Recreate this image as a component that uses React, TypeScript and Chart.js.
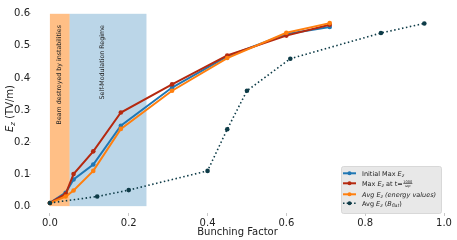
import React, { useEffect, useRef } from "react";
import { Chart, registerables } from "chart.js";

Chart.register(...registerables);

// ---- data ----
const initialX = [0.0, 0.04, 0.06, 0.11, 0.18, 0.31, 0.45, 0.6, 0.71];
const initialY = [0.01, 0.042, 0.083, 0.13, 0.251, 0.37, 0.467, 0.537, 0.559];
const maxAtTX = [0.0, 0.04, 0.06, 0.11, 0.18, 0.31, 0.45, 0.6, 0.71];
const maxAtTY = [0.01, 0.038, 0.1, 0.171, 0.292, 0.38, 0.47, 0.532, 0.566];
const avgEnergyX = [0.0, 0.04, 0.06, 0.11, 0.18, 0.31, 0.45, 0.6, 0.71];
const avgEnergyY = [0.01, 0.03, 0.049, 0.11, 0.241, 0.36, 0.462, 0.541, 0.571];
const bflatX = [0.0, 0.12, 0.2, 0.4, 0.45, 0.5, 0.61, 0.84, 0.95];
const bflatY = [0.01, 0.03, 0.05, 0.11, 0.24, 0.36, 0.46, 0.54, 0.57];
const xTicks = [0.0, 0.2, 0.4, 0.6, 0.8, 1.0];
const yTicks = [0.0, 0.1, 0.2, 0.3, 0.4, 0.5, 0.6];
const spanOrange = [0.0, 0.05];
const spanBlue = [0.05, 0.245];
const spanY = [0.0, 0.6];
const spanOrangeLabel = "Beam destroyed by instabilities";
const spanBlueLabel = "Self-Modulation Regime";
const xTitle = "Bunching Factor";

const C_BLUE = "#1f77b4";
const C_RED = "#b5290f";
const C_ORANGE = "#ff7f0e";
const C_DARK = "#0d3b47";
const FONT = "DejaVu Sans";

type Seg = { t?: string; it?: boolean; sub?: boolean; frac?: [string, string] };

function richWidth(ctx: CanvasRenderingContext2D, segs: Seg[], size: number) {
  let w = 0;
  for (const s of segs) {
    if (s.frac) {
      ctx.font = `${size * 0.55}px ${FONT}`;
      const a = ctx.measureText(s.frac[0]).width;
      ctx.font = `italic ${size * 0.55}px ${FONT}`;
      const b = ctx.measureText(s.frac[1]).width;
      w += Math.max(a, b) + size * 0.2;
      continue;
    }
    const fs = s.sub ? size * 0.7 : size;
    ctx.font = `${s.it ? "italic " : ""}${fs}px ${FONT}`;
    w += ctx.measureText(s.t || "").width;
  }
  return w;
}

function drawRich(ctx: CanvasRenderingContext2D, segs: Seg[], x: number, y: number, size: number) {
  let cx = x;
  ctx.textBaseline = "alphabetic";
  ctx.textAlign = "left";
  for (const s of segs) {
    if (s.frac) {
      const fs = size * 0.55;
      ctx.font = `${fs}px ${FONT}`;
      const a = ctx.measureText(s.frac[0]).width;
      ctx.font = `italic ${fs}px ${FONT}`;
      const b = ctx.measureText(s.frac[1]).width;
      const w = Math.max(a, b);
      const x0 = cx + size * 0.1;
      ctx.font = `${fs}px ${FONT}`;
      ctx.fillText(s.frac[0], x0 + (w - a) / 2, y - size * 0.45);
      ctx.fillRect(x0, y - size * 0.33, w, 0.6);
      ctx.font = `italic ${fs}px ${FONT}`;
      ctx.fillText(s.frac[1], x0 + (w - b) / 2, y + size * 0.25);
      cx += w + size * 0.2;
      continue;
    }
    const fs = s.sub ? size * 0.7 : size;
    ctx.font = `${s.it ? "italic " : ""}${fs}px ${FONT}`;
    ctx.fillText(s.t || "", cx, s.sub ? y + size * 0.22 : y);
    cx += ctx.measureText(s.t || "").width;
  }
}

const legendRows: { segs: Seg[]; color: string; dash: boolean }[] = [
  { segs: [{ t: "Initial Max " }, { t: "E", it: true }, { t: "z", it: true, sub: true }], color: C_BLUE, dash: false },
  {
    segs: [{ t: "Max " }, { t: "E", it: true }, { t: "z", it: true, sub: true }, { t: " at t=" }, { frac: ["1000", "ωp"] }],
    color: C_RED,
    dash: false,
  },
  {
    segs: [{ t: "Avg ", it: true }, { t: "E", it: true }, { t: "z", it: true, sub: true }, { t: " (energy values)", it: true }],
    color: C_ORANGE,
    dash: false,
  },
  {
    segs: [{ t: "Avg " }, { t: "E", it: true }, { t: "z", it: true, sub: true }, { t: " (" }, { t: "B", it: true }, { t: "flat", it: true, sub: true }, { t: ")" }],
    color: C_DARK,
    dash: true,
  },
];

const decorPlugin = {
  id: "decor",
  beforeDatasetsDraw(chart: any) {
    const ctx: CanvasRenderingContext2D = chart.ctx;
    const xs = chart.scales.x;
    const ys = chart.scales.y;
    const yTop = ys.getPixelForValue(spanY[1]);
    const yBot = ys.getPixelForValue(spanY[0]);
    ctx.save();
    const ox0 = xs.getPixelForValue(spanOrange[0]);
    const ox1 = xs.getPixelForValue(spanOrange[1]);
    ctx.fillStyle = "rgba(255,127,14,0.5)";
    ctx.fillRect(ox0, yTop, ox1 - ox0, yBot - yTop);
    const bx0 = xs.getPixelForValue(spanBlue[0]);
    const bx1 = xs.getPixelForValue(spanBlue[1]);
    ctx.fillStyle = "rgba(31,119,180,0.3)";
    ctx.fillRect(bx0, yTop, bx1 - bx0, yBot - yTop);
    // span labels
    ctx.fillStyle = "#222";
    ctx.font = `6.3px ${FONT}`;
    ctx.textAlign = "right";
    ctx.textBaseline = "middle";
    const ty = ys.getPixelForValue(0.565);
    ctx.setTransform(0, -1, 1, 0, xs.getPixelForValue(0.023), ty);
    ctx.fillText(spanOrangeLabel, 0, 0);
    ctx.setTransform(0, -1, 1, 0, xs.getPixelForValue(0.134), ty);
    ctx.fillText(spanBlueLabel, 0, 0);
    ctx.setTransform(1, 0, 0, 1, 0, 0);
    ctx.restore();
  },
  afterDatasetsDraw(chart: any) {
    const ctx: CanvasRenderingContext2D = chart.ctx;
    const area = chart.chartArea;
    ctx.save();
    // legend
    const lx = 341, ly = 166, lw = 100, lh = 47;
    ctx.fillStyle = "#e8e8e8";
    ctx.strokeStyle = "#d0d0d0";
    ctx.lineWidth = 0.8;
    ctx.beginPath();
    (ctx as any).roundRect(lx + 0.5, ly + 0.5, lw, lh, 2);
    ctx.fill();
    ctx.stroke();
    const rowY = [175.5, 185.5, 196.5, 205.5];
    legendRows.forEach((r, i) => {
      const cy = rowY[i] - 2.2;
      ctx.strokeStyle = r.color;
      ctx.fillStyle = r.color;
      ctx.lineWidth = r.dash ? 1.5 : 2;
      ctx.setLineDash(r.dash ? [1.5, 2.2] : []);
      ctx.beginPath();
      ctx.moveTo(343, cy);
      ctx.lineTo(356, cy);
      ctx.stroke();
      ctx.setLineDash([]);
      ctx.beginPath();
      ctx.arc(349.5, cy, 2, 0, Math.PI * 2);
      ctx.fill();
      ctx.fillStyle = "#222";
      drawRich(ctx, r.segs, 362, rowY[i], 6.5);
    });
    // axis titles
    ctx.fillStyle = "#222";
    ctx.font = `10px ${FONT}`;
    ctx.textAlign = "center";
    ctx.textBaseline = "alphabetic";
    ctx.fillText(xTitle, (area.left + area.right) / 2, 235);
    const ySegs: Seg[] = [{ t: "E", it: true }, { t: "z", it: true, sub: true }, { t: " (TV/m)" }];
    const w = richWidth(ctx, ySegs, 10);
    ctx.setTransform(0, -1, 1, 0, 12.5, 108.5);
    drawRich(ctx, ySegs, -w / 2, 0, 10);
    ctx.setTransform(1, 0, 0, 1, 0, 0);
    ctx.restore();
  },
};

function pts(xs: number[], ys: number[]) {
  return xs.map((x, i) => ({ x, y: ys[i] }));
}

export default function App() {
  const ref = useRef<HTMLCanvasElement | null>(null);
  useEffect(() => {
    if (!ref.current) return;
    const mk = (label: string, data: any[], color: string, order: number, dash = false) => ({
      label,
      data,
      borderColor: color,
      backgroundColor: color,
      pointBackgroundColor: color,
      pointBorderColor: color,
      borderWidth: dash ? 1.6 : 2,
      borderDash: dash ? [1.5, 2.5] : [],
      pointRadius: 2.3,
      pointBorderWidth: 0,
      tension: 0,
      order,
      showLine: true,
    });
    const chart = new Chart(ref.current, {
      type: "scatter",
      data: {
        datasets: [
          mk("Initial Max Ez", pts(initialX, initialY), C_BLUE, 4),
          mk("Max Ez at t", pts(maxAtTX, maxAtTY), C_RED, 3),
          mk("Avg Ez (energy values)", pts(avgEnergyX, avgEnergyY), C_ORANGE, 2),
          mk("Avg Ez (Bflat)", pts(bflatX, bflatY), C_DARK, 1, true),
        ] as any,
      },
      options: {
        responsive: false,
        animation: false,
        devicePixelRatio: 1,
        layout: { padding: { left: 0, top: 0, right: 13, bottom: 0 } },
        plugins: { legend: { display: false }, tooltip: { enabled: false } },
        scales: {
          x: {
            type: "linear",
            min: -0.048,
            max: 1.0,
            border: { display: false },
            grid: { drawOnChartArea: false, drawTicks: true, tickLength: 3, color: "#c8c8c8" },
            ticks: {
              padding: 1,
              color: "#222",
              font: { family: FONT, size: 10 },
              callback: (v: any) => Number(v).toFixed(1),
            },
            afterBuildTicks: (s: any) => {
              s.ticks = xTicks.map((v) => ({ value: v }));
            },
            afterFit: (s: any) => {
              s.height = 27;
              s.paddingLeft = 0;
              s.paddingRight = 0;
            },
          },
          y: {
            type: "linear",
            min: -0.0214,
            max: 0.6306,
            border: { display: false },
            grid: { drawOnChartArea: false, drawTicks: true, tickLength: 2, color: "#c8c8c8" },
            ticks: {
              padding: -1,
              color: "#222",
              font: { family: FONT, size: 10 },
              callback: (v: any) => Number(v).toFixed(1),
            },
            afterBuildTicks: (s: any) => {
              s.ticks = yTicks.map((v) => ({ value: v }));
            },
            afterFit: (s: any) => {
              s.width = 31;
              s.paddingTop = 0;
              s.paddingBottom = 0;
            },
          },
        },
      },
      plugins: [decorPlugin],
    });
    return () => chart.destroy();
  }, []);
  return (
    <div style={{ position: "fixed", left: 0, top: 0, width: 457, height: 240, background: "#fff" }}>
      <canvas ref={ref} width={457} height={240} style={{ width: 457, height: 240 }} />
    </div>
  );
}
